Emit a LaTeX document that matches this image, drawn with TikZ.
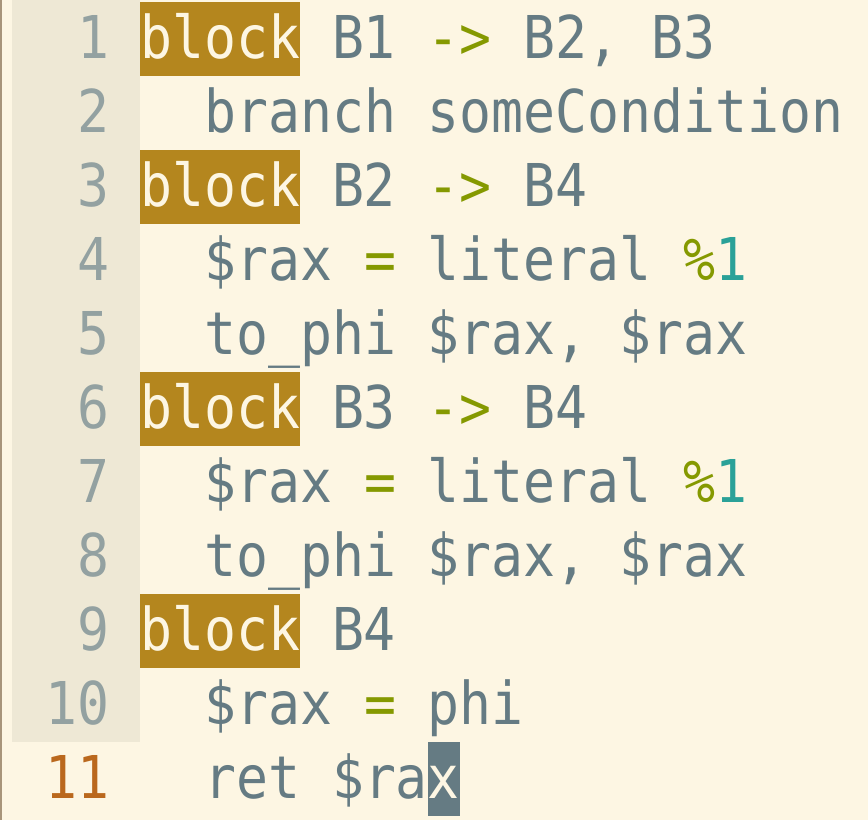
\documentclass[tikz,border=0pt]{standalone}
\usepackage{fontspec}
\newfontfamily\codefont[FakeStretch=0.9,WordSpace={1,0,0}]{DejaVu Sans Mono}
\definecolor{base3}{HTML}{FDF6E3}
\definecolor{base2}{HTML}{EEE8D5}
\definecolor{base1}{HTML}{93A1A1}
\definecolor{base00}{HTML}{657B83}
\definecolor{solyellow}{HTML}{B4861E}
\definecolor{solgreen}{HTML}{859900}
\definecolor{solcyan}{HTML}{2AA198}
\definecolor{lineorange}{HTML}{BA681D}
\definecolor{frame}{HTML}{A8957A}
\pgfdeclarelayer{bglayer}
\pgfsetlayers{bglayer,main}
\tikzstyle{code}=[anchor=base west,inner sep=0pt,text=base00,font=\codefont\fontsize{59}{74}\selectfont]
\tikzstyle{lineno}=[anchor=base east,inner sep=0pt,text=base1,font=\codefont\fontsize{59}{74}\selectfont]
\tikzstyle{hilite}=[fill=solyellow,draw=none]
\tikzstyle{cursorbox}=[fill=base00,draw=none]
\newcommand{\kw}[1]{\textcolor{base3}{#1}}
\newcommand{\op}[1]{\textcolor{solgreen}{#1}}

\begin{document}
\begin{tikzpicture}[x=1pt,y=-1pt]
	\useasboundingbox (0,0) rectangle (868,820);
	\begin{pgfonlayer}{bglayer}
		\fill [base3] (0,0) rectangle (868,820);
		\fill [frame] (0,0) rectangle (2,820);
		\fill [base2] (12,0) rectangle (140,742);
		\foreach \y in {58,206,428,650}
			\fill [style=hilite] (140,\y-56) rectangle (300,\y+18);
		\fill [style=cursorbox] (428,742) rectangle (460,816);
	\end{pgfonlayer}
	\foreach \n in {1,...,10}
		\node [style=lineno] (n\n) at (110,{58+74*(\n-1)}) {\n};
	\node [style=lineno, text=lineorange] (n11) at (110,798) {11};
	\node [style=code] (1) at (140,58) {\kw{block} B1 \op{->} B2, B3};
	\node [style=code] (2) at (204,132) {branch someCondition};
	\node [style=code] (3) at (140,206) {\kw{block} B2 \op{->} B4};
	\node [style=code] (4) at (204,280) {\$rax \op{=} literal \op{\%}\textcolor{solcyan}{1}};
	\node [style=code] (5) at (204,354) {to\_phi \$rax, \$rax};
	\node [style=code] (6) at (140,428) {\kw{block} B3 \op{->} B4};
	\node [style=code] (7) at (204,502) {\$rax \op{=} literal \op{\%}\textcolor{solcyan}{1}};
	\node [style=code] (8) at (204,576) {to\_phi \$rax, \$rax};
	\node [style=code] (9) at (140,650) {\kw{block} B4};
	\node [style=code] (10) at (204,724) {\$rax \op{=} phi};
	\node [style=code] (11) at (204,798) {ret \$ra\kw{x}};
\end{tikzpicture}
\end{document}
